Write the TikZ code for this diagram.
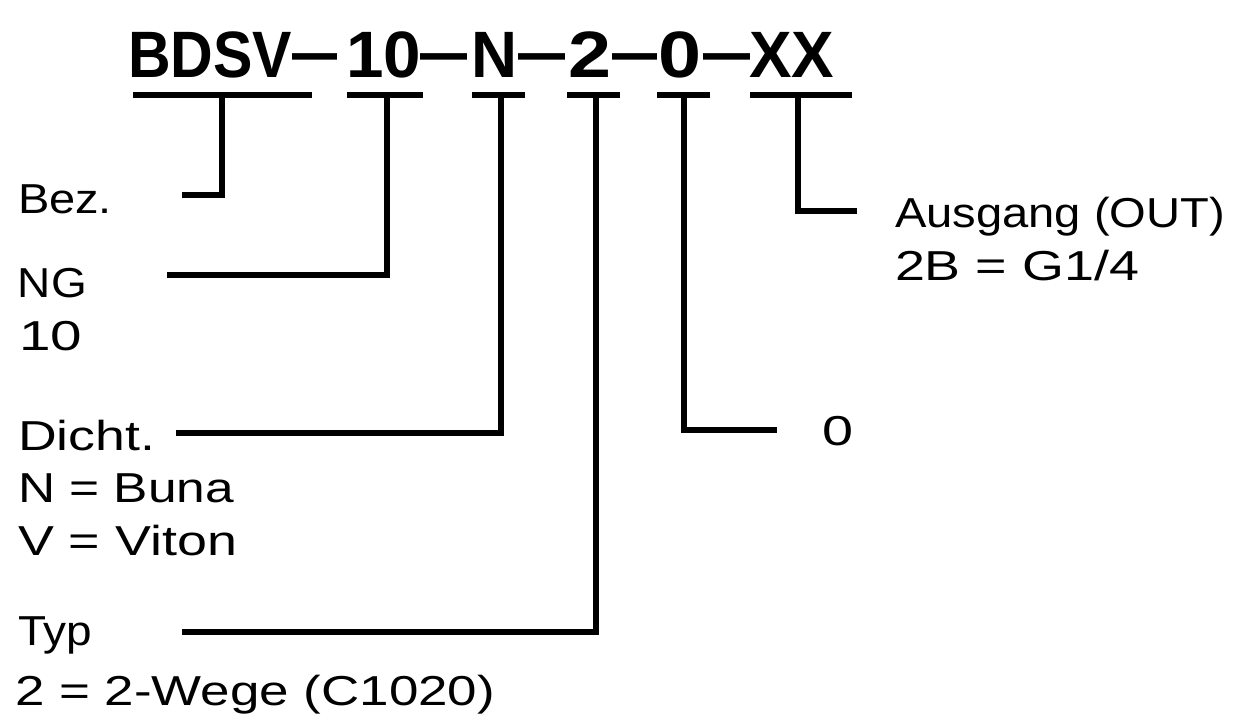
\documentclass[tikz,border=0pt]{standalone}
\usepackage{fontspec}
\setmainfont{Liberation Sans}
\usepackage{graphicx}
\newdimen\pxu \pxu=0.75pt
\newcommand\fitw[2]{\resizebox{#1\pxu}{\height}{#2}}
\tikzset{
  lbl/.style={anchor=base west, inner sep=0pt, outer sep=0pt, font=\fontsize{31.4}{39.75}\selectfont},
  code/.style={anchor=base west, inner sep=0pt, outer sep=0pt, font=\fontsize{49.2}{50}\selectfont\bfseries},
  conn/.style={line width=4.9pt, line join=miter, line cap=butt},
}
\begin{document}
\begin{tikzpicture}[x=0.75pt, y=-0.75pt]
\useasboundingbox (0,0) rectangle (1235,719);
\fill[white] (0,0) rectangle (1235,719);

% type code
\node[code] (cBDSV) at (128,77) {\fitw{164}{BDSV}};
\node[code] (cd1)   at (292,77) {\fitw{45}{\raisebox{2pt}{—}}};
\node[code] (c10)   at (346,77) {\fitw{75}{10}};
\node[code] (cd2)   at (420,77) {\fitw{47}{\raisebox{2pt}{—}}};
\node[code] (cN)    at (471,77) {\fitw{46}{N}};
\node[code] (cd3)   at (518,77) {\fitw{47}{\raisebox{2pt}{—}}};
\node[code] (c2)    at (568,77) {\fitw{43}{2}};
\node[code] (cd4)   at (612,77) {\fitw{45}{\raisebox{2pt}{—}}};
\node[code] (c0)    at (658,77) {\fitw{43}{0}};
\node[code] (cd5)   at (703,77) {\fitw{47}{\raisebox{2pt}{—}}};
\node[code] (cXX)   at (749,77) {\fitw{85}{XX}};

% underline end points
\coordinate (u1a) at (133,95); \coordinate (u1b) at (312,95);
\coordinate (u2a) at (347,95); \coordinate (u2b) at (423,95);
\coordinate (u3a) at (472,95); \coordinate (u3b) at (525,95);
\coordinate (u4a) at (567,95); \coordinate (u4b) at (620,95);
\coordinate (u5a) at (657,95); \coordinate (u5b) at (710,95);
\coordinate (u6a) at (750,95); \coordinate (u6b) at (852,95);
\foreach \i in {1,...,6} { \draw[conn] (u\i a) -- (u\i b); }

% labels
\node[lbl] (bez)    at (18,213)  {\fitw{94}{Bez.}};
\node[lbl] (ng)     at (18,297)  {\fitw{69}{NG}};
\node[lbl] (ngv)    at (19,350)  {\fitw{63}{10}};
\node[lbl] (dicht)  at (18,450)  {\fitw{137}{Dicht.}};
\node[lbl] (dichtn) at (18,502)  {\fitw{216}{N = Buna}};
\node[lbl] (dichtv) at (18,555)  {\fitw{219}{V = Viton}};
\node[lbl] (typ)    at (18,645)  {\fitw{74}{Typ}};
\node[lbl] (typv)   at (15,705)  {\fitw{480}{2 = 2-Wege (C1020)}};
\node[lbl] (out)    at (895,227) {\fitw{330}{Ausgang (OUT)}};
\node[lbl] (outv)   at (895,280) {\fitw{244}{2B = G1/4}};
\node[lbl] (zero)   at (822,445) {\fitw{31}{0}};

% connector ends
\coordinate (ta) at (222,93); \coordinate (ea) at (182,195);
\coordinate (tb) at (387,93); \coordinate (eb) at (167,275);
\coordinate (tc) at (501,93); \coordinate (ec) at (176,433);
\coordinate (td) at (596,93); \coordinate (ed) at (182,632);
\coordinate (te) at (684,93); \coordinate (ee) at (777,430);
\coordinate (tf) at (798,93); \coordinate (ef) at (857,211);

\draw[conn] (ta) |- (ea);
\draw[conn] (tb) |- (eb);
\draw[conn] (tc) |- (ec);
\draw[conn] (td) |- (ed);
\draw[conn] (te) |- (ee);
\draw[conn] (tf) |- (ef);
\end{tikzpicture}
\end{document}
